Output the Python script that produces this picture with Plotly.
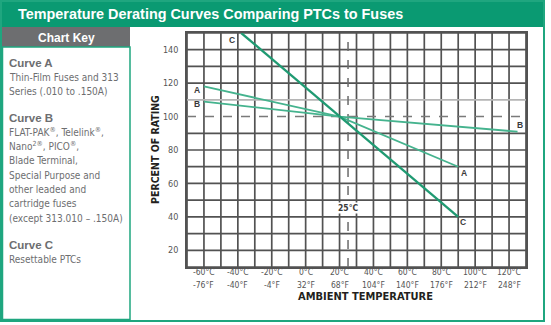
import plotly.graph_objects as go

# ---- data ----
curve_a_temp = [-60, 20, 90]
curve_a_pct = [118, 100, 70]
curve_b_temp = [-60, 20, 125]
curve_b_pct = [109, 100, 91]
curve_c_temp = [-38, 20, 90]
curve_c_pct = [150, 100, 40]

x_tick_c = [-60, -40, -20, 0, 20, 40, 60, 80, 100, 120]
x_tick_f = [-76, -40, -4, 32, 68, 104, 140, 176, 212, 248]
y_ticks = [20, 40, 60, 80, 100, 120, 140]

key_lines = [
    ("Curve A", True, 63),
    ("Thin-Film Fuses and 313", False, 77),
    ("Series (.010 to .150A)", False, 91),
    ("Curve B", True, 118),
    ("FLAT-PAK<sup>®</sup>, Telelink<sup>®</sup>,", False, 132),
    ("Nano<sup>2®</sup>, PICO<sup>®</sup>,", False, 146),
    ("Blade Terminal,", False, 160),
    ("Special Purpose and", False, 175),
    ("other leaded and", False, 189),
    ("cartridge fuses", False, 203),
    ("(except 313.010 – .150A)", False, 218),
    ("Curve C", True, 245),
    ("Resettable PTCs", False, 259),
]

# ---- layout helpers ----
W_FIG, H_FIG = 551, 325
L, R, T, B = 187, 526, 33, 267
PW, PH = R - L, B - T


def PX(px):
    return (px - L) / PW


def PY(py):
    return (B - py) / PH


GREEN = "#0a9a72"
LINE_GREEN = "#1fa67f"
GRAY = "#6d6e70"
GRID = "#525252"
NARROW = "Liberation Sans Narrow, DejaVu Sans Condensed, Arial Narrow, sans-serif"
SANS = "Liberation Sans, Arial, sans-serif"

fig = go.Figure()

line_a_b = "#45b38e"
fig.add_trace(go.Scatter(x=curve_a_temp, y=curve_a_pct, mode="lines",
                         line=dict(color=line_a_b, width=1.8), hoverinfo="skip"))
fig.add_trace(go.Scatter(x=curve_b_temp, y=curve_b_pct, mode="lines",
                         line=dict(color=line_a_b, width=1.8), hoverinfo="skip"))
fig.add_trace(go.Scatter(x=curve_c_temp, y=curve_c_pct, mode="lines",
                         line=dict(color="#1f9a72", width=2.3), hoverinfo="skip"))

shapes = []
# grid
for xv in range(-70, 131, 10):
    shapes.append(dict(type="line", xref="x", yref="y", x0=xv, x1=xv, y0=10, y1=150,
                       line=dict(color=GRID, width=1.7), layer="below"))
for yv in range(10, 151, 10):
    if yv == 100:
        continue
    col = "#b5b5b5" if yv == 110 else GRID
    shapes.append(dict(type="line", xref="x", yref="y", x0=-70, x1=130, y0=yv, y1=yv,
                       line=dict(color=col, width=1.7), layer="below"))
# dashed reference lines
shapes.append(dict(type="line", xref="x", yref="y", x0=-70, x1=130, y0=100, y1=100,
                   line=dict(color="#7a7a7a", width=1.5, dash="dash"), layer="below"))
shapes.append(dict(type="line", xref="x", yref="y", x0=25, x1=25, y0=10, y1=150,
                   line=dict(color="#6a6a6a", width=1.5, dash="dash"), layer="below"))

# frame pieces
shapes.append(dict(type="rect", xref="paper", yref="paper", x0=PX(0), x1=PX(545),
                   y0=PY(27), y1=PY(0), fillcolor=GREEN, line=dict(width=0)))
shapes.append(dict(type="rect", xref="paper", yref="paper", x0=PX(1), x1=PX(544),
                   y0=PY(321), y1=PY(1), line=dict(color=LINE_GREEN, width=2)))
shapes.append(dict(type="rect", xref="paper", yref="paper", x0=PX(2), x1=PX(130),
                   y0=PY(47), y1=PY(27), fillcolor=GRAY, line=dict(width=0)))
shapes.append(dict(type="rect", xref="paper", yref="paper", x0=PX(2.5), x1=PX(130),
                   y0=PY(319.5), y1=PY(47), line=dict(color=LINE_GREEN, width=1.5)))

annotations = []
annotations.append(dict(xref="paper", yref="paper", x=PX(16), y=PY(14), xanchor="left",
                        yanchor="middle", showarrow=False,
                        text="<b>Temperature Derating Curves Comparing PTCs to Fuses</b>",
                        font=dict(family=SANS, size=14.4, color="white")))
annotations.append(dict(xref="paper", yref="paper", x=PX(66), y=PY(37.5), xanchor="center",
                        yanchor="middle", showarrow=False, text="<b>Chart Key</b>",
                        font=dict(family=SANS, size=12, color="white")))
for txt, bold, yy in key_lines:
    annotations.append(dict(xref="paper", yref="paper", x=PX(7), y=PY(yy), xanchor="left",
                            yanchor="middle", showarrow=False,
                            text=f"<b>{txt}</b>" if bold else txt,
                            font=dict(family=SANS if bold else NARROW,
                                      size=11.5 if bold else 10, color=GRAY)))

# x tick labels (two lines: °C and °F)
for c, f in zip(x_tick_c, x_tick_f):
    annotations.append(dict(xref="x", yref="paper", x=c, y=PY(271.5), showarrow=False,
                            text=f"{c}°C", yanchor="middle",
                            font=dict(family=NARROW, size=8.5, color="#555555")))
    annotations.append(dict(xref="x", yref="paper", x=c, y=PY(284.5), showarrow=False,
                            text=f"{f}°F", yanchor="middle",
                            font=dict(family=NARROW, size=8.5, color="#555555")))

# curve labels
curve_labels = [("A", -64, 116), ("B", -64, 107.5), ("C", -43.5, 146),
                ("A", 93.5, 66), ("B", 126.5, 95), ("C", 93, 37)]
for t, xv, yv in curve_labels:
    annotations.append(dict(xref="x", yref="y", x=xv, y=yv, showarrow=False,
                            text=f"<b>{t}</b>",
                            font=dict(family=SANS, size=8.5, color="#3a3a3a")))
annotations.append(dict(xref="x", yref="y", x=24.7, y=45.5, showarrow=False,
                        text="<b>25°C</b>", bgcolor="white", borderpad=0,
                        font=dict(family=NARROW, size=8.5, color="#3a3a3a")))

# axis titles
annotations.append(dict(xref="paper", yref="paper", x=PX(147), y=0.5, textangle=-90,
                        showarrow=False, text="<b>PERCENT OF RATING</b>",
                        font=dict(family=NARROW, size=10.5, color="#231f20")))
annotations.append(dict(xref="paper", yref="paper", x=PX(365), y=PY(296), showarrow=False,
                        text="<b>AMBIENT TEMPERATURE</b>", yanchor="middle",
                        font=dict(family=NARROW, size=11, color="#231f20")))

fig.update_layout(
    width=W_FIG, height=H_FIG,
    margin=dict(l=L, r=W_FIG - R, t=T, b=H_FIG - B, pad=0),
    paper_bgcolor="white", plot_bgcolor="white",
    showlegend=False,
    shapes=shapes, annotations=annotations,
    xaxis=dict(range=[-70, 130], showgrid=False, zeroline=False,
               showticklabels=False,
               showline=True, linecolor=GRID, linewidth=1.7, mirror=True,
               ticks="", fixedrange=True),
    yaxis=dict(range=[10, 150], showgrid=False, zeroline=False,
               tickmode="array", tickvals=y_ticks,
               tickfont=dict(family=NARROW, size=9, color="#555555"),
               showline=True, linecolor=GRID, linewidth=1.7, mirror=True,
               ticks="outside", ticklen=5, tickcolor="rgba(0,0,0,0)", fixedrange=True),
)

fig.write_html("out.html")
